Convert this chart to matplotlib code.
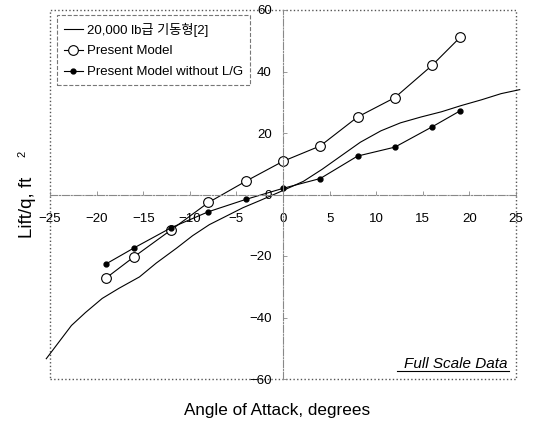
import matplotlib.pyplot as plt
from matplotlib.lines import Line2D
from matplotlib.patches import Rectangle

plt.rcParams["font.family"] = ["Liberation Sans", "Noto Sans CJK KR", "DejaVu Sans"]

# 20,000 lb급 기동형 reference curve
ref_aoa = [-25.4, -24.1, -22.7, -21.2, -19.4, -17.6, -15.4, -13.6, -11.4, -9.7,
           -7.9, -6.0, -4.3, -2.5, -0.6, 0.0, 2.2, 4.2, 6.2, 8.3, 10.5, 12.6,
           14.8, 17.0, 19.1, 21.3, 23.4, 25.4]
ref_lift = [-53.4, -48.2, -42.6, -38.4, -33.8, -30.5, -26.8, -22.3, -17.4, -13.4,
            -9.8, -6.9, -4.3, -2.0, 0.5, 1.3, 4.3, 8.2, 12.5, 17.0, 20.7, 23.3,
            25.2, 26.9, 28.9, 30.8, 32.8, 34.1]

# Present Model
pm_aoa = [-19, -16, -12, -8, -4, 0, 4, 8, 12, 16, 19]
pm_lift = [-27.2, -20.3, -11.5, -2.6, 4.3, 10.8, 15.8, 25.2, 31.5, 42.0, 51.1]

# Present Model without L/G
nolg_aoa = [-19, -16, -12, -8, -4, 0, 4, 8, 12, 16, 19]
nolg_lift = [-22.6, -17.4, -10.8, -5.6, -1.6, 2.0, 5.2, 12.5, 15.4, 22.0, 27.2]

xticks = [-25, -20, -15, -10, -5, 0, 5, 10, 15, 20, 25]
yticks = [-60, -40, -20, 0, 20, 40, 60]

fig = plt.figure(figsize=(5.33, 4.22), dpi=100)
ax = fig.add_axes([50 / 533, 1 - 379 / 422, 466 / 533, 369 / 422])

ax.plot(ref_aoa, ref_lift, color="black", lw=0.8, clip_on=False,
        label="20,000 lb급 기동형[2]")
ax.plot(pm_aoa, pm_lift, color="black", lw=0.8, marker="o", ms=7,
        mfc="white", mec="black", mew=0.8, label="Present Model")
ax.plot(nolg_aoa, nolg_lift, color="black", lw=0.8, marker="o", ms=3.5,
        mfc="black", mec="black", label="Present Model without L/G")

ax.set_xlim(-25, 25)
ax.set_ylim(-60, 60)
ax.set_xticks(xticks)
ax.set_yticks(yticks)

# axes crossing at the origin
for side in ["top", "right"]:
    ax.spines[side].set_visible(False)
for side in ["left", "bottom"]:
    ax.spines[side].set_position(("data", 0))
    ax.spines[side].set_linestyle("-.")
    ax.spines[side].set_color("#888888")
    ax.spines[side].set_linewidth(0.8)

ax.tick_params(direction="in", length=3, width=0.6, color="#888888",
               labelsize=9.5)
ax.tick_params(axis="x", pad=13)
ax.tick_params(axis="y", pad=8)

# dotted outer frame
ax.add_patch(Rectangle((0, 0), 1, 1, transform=ax.transAxes, fill=False,
                       ls=":", lw=1.0, ec="#555555", clip_on=False))

leg = ax.legend(loc="upper left", bbox_to_anchor=(0.015, 0.986), fontsize=9.5,
                handlelength=1.4, handletextpad=0.3, borderpad=0.55,
                labelspacing=0.65, borderaxespad=0, fancybox=False,
                framealpha=1)
leg.get_frame().set_linestyle("--")
leg.get_frame().set_edgecolor("#777777")
leg.get_frame().set_linewidth(0.8)

# Full Scale Data note
ax.text(0.982, 0.030, "Full Scale Data", transform=ax.transAxes, ha="right",
        va="baseline", fontsize=11, style="italic")
ax.add_line(Line2D([0.744, 0.984], [0.021, 0.021], transform=ax.transAxes,
                   color="black", lw=0.8))

fig.text(277 / 533, 1 - 410 / 422, "Angle of Attack, degrees", ha="center",
         va="center", fontsize=12.3)
fig.text(28 / 533, 1 - 207 / 422, "Lift/q, ft", rotation=90, ha="center",
         va="center", fontsize=13.5)
fig.text(22 / 533, 1 - 154 / 422, "2", rotation=90, ha="center",
         va="center", fontsize=8)

fig.savefig("out.png", dpi=100)
